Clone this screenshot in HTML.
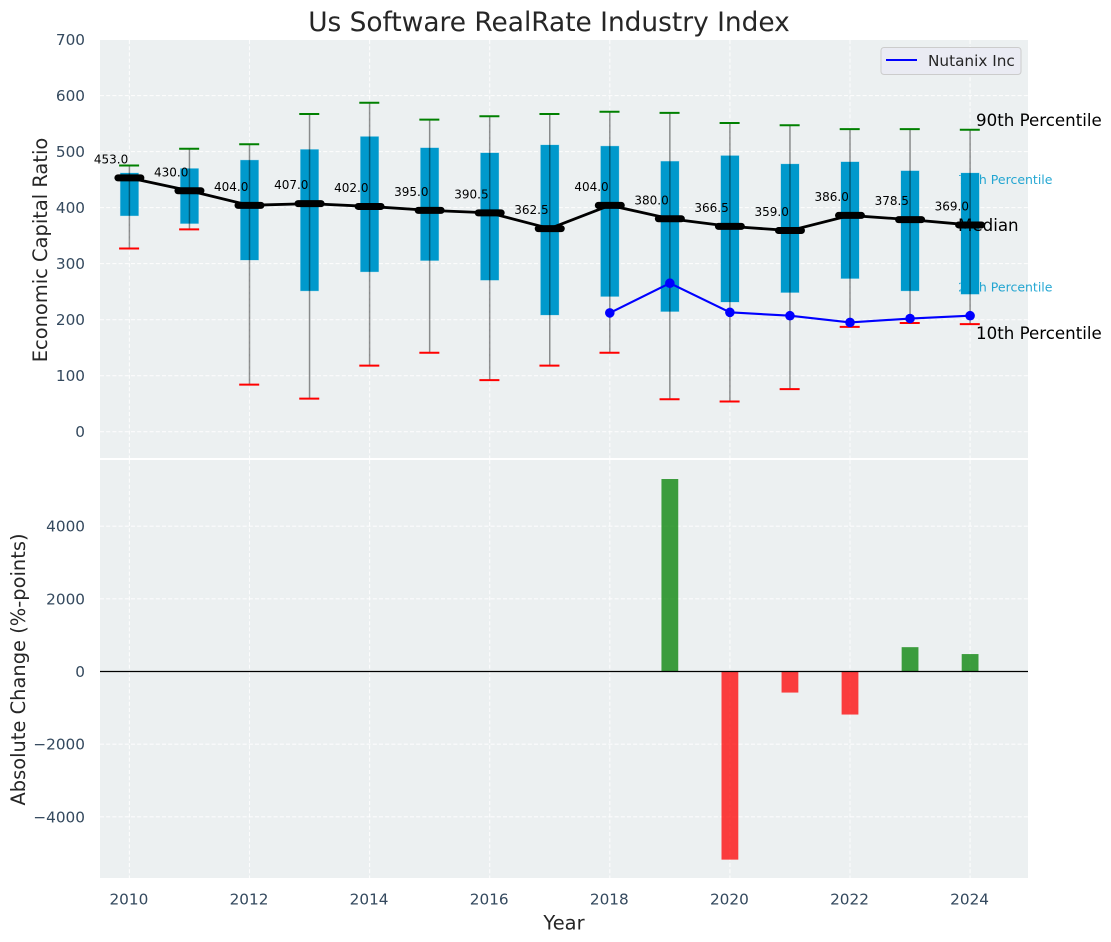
<!DOCTYPE html>
<html>
<head>
<meta charset="utf-8">
<title>Us Software RealRate Industry Index</title>
<style>
html,body{margin:0;padding:0;background:#fff;width:1111px;height:942px;overflow:hidden}
svg{display:block;font-family:"DejaVu Sans","Liberation Sans",sans-serif}
</style>
</head>
<body>
<svg id="chart" xmlns="http://www.w3.org/2000/svg" width="1111" height="942" viewBox="0 0 1111 942"></svg>
<script>
const years = [2010,2011,2012,2013,2014,2015,2016,2017,2018,2019,2020,2021,2022,2023,2024];
const p90 = [475,505,513,567,587,557,563,567,571,569,551,547,540,540,539];
const p75 = [462,470,485,504,527,507,498,512,510,483,493,478,482,466,462];
const medians = [453,430,404,407,402,395,390.5,362.5,404,380,366.5,359,386,378.5,369];
const medianLabels = ["453.0","430.0","404.0","407.0","402.0","395.0","390.5","362.5","404.0","380.0","366.5","359.0","386.0","378.5","369.0"];
const p25 = [385,371,306,251,285,305,270,208,241,214,231,248,273,251,245];
const p10 = [327,361,84,59,118,141,92,118,141,58,54,76,187,194,192];
const companyYears = [2018,2019,2020,2021,2022,2023,2024];
const companyValues = [212,265,213,207,195,202,207];
const changeYears = [2019,2020,2021,2022,2023,2024];
const changeValues = [5300,-5180,-580,-1185,670,480];
const xTicks = [2010,2012,2014,2016,2018,2020,2022,2024];
const yTicksTop = [0,100,200,300,400,500,600,700];
const yTicksBottom = [-4000,-2000,0,2000,4000];

const svg = document.getElementById('chart');
const NS = 'http://www.w3.org/2000/svg';
const L = 100, R = 1028, T1 = 40, B1 = 458, T2 = 460, B2 = 878;
const x = v => 129.4 + (v - 2010) * 60.05;
const y1 = v => 431.7 - v * 0.5603;
const y2 = v => 671.5 - v * 0.03632;
function mk(tag, props, parent) {
  const e = document.createElementNS(NS, tag);
  for (const k in props) e.setAttribute(k, props[k]);
  (parent || svg).appendChild(e);
  return e;
}
function txt(str, props, parent) {
  const e = mk('text', props, parent);
  e.textContent = str;
  return e;
}
let el;

el = mk('rect', {x:L, y:T1, width:R-L, height:B1-T1, fill:'#ecf0f1'});


el = mk('rect', {x:L, y:T2, width:R-L, height:B2-T2, fill:'#ecf0f1'});



const gridStyle = {stroke:'#ffffff', 'stroke-width':1.1, 'stroke-dasharray':'4 2.2', opacity:0.85};
xTicks.forEach(t => {
  el = mk('line', Object.assign({x1:x(t), x2:x(t), y1:T1, y2:B1}, gridStyle));
  
  
  el = mk('line', Object.assign({x1:x(t), x2:x(t), y1:T2, y2:B2}, gridStyle));
  
  
  el = txt(t, {x:x(t)-0.5, y:904.5, 'text-anchor':'middle', 'font-size':15.28, fill:'#34495e'});
  
  
});
yTicksTop.forEach(t => {
  el = mk('line', Object.assign({x1:L, x2:R, y1:y1(t), y2:y1(t)}, gridStyle));
  
  
  el = txt(t, {x:85, y:y1(t)+5.5, 'text-anchor':'end', 'font-size':15.28, fill:'#34495e'});
  
  
});
yTicksBottom.forEach(t => {
  el = mk('line', Object.assign({x1:L, x2:R, y1:y2(t), y2:y2(t)}, gridStyle));
  
  
  el = txt(String(t).replace('-', '\u2212'), {x:85, y:y2(t)+5.5, 'text-anchor':'end', 'font-size':15.28, fill:'#34495e'});
  
  
});

const lastIdx = years.length - 1;
const lastX = x(years[lastIdx]);
el = txt('75th Percentile', {x:lastX-12, y:y1(p75[lastIdx])+11, 'font-size':12.5, fill:'#0099cc', opacity:0.85});


el = txt('25th Percentile', {x:lastX-12, y:y1(p25[lastIdx])-3, 'font-size':12.5, fill:'#0099cc', opacity:0.85});



years.forEach((yr, i) => {
  const cx = x(yr);
  el = mk('rect', {x:cx-9.3, y:y1(p75[i]), width:18.6, height:y1(p25[i])-y1(p75[i]), fill:'#0099cc', stroke:'#bfe3ee', 'stroke-width':0.4});
  
  
  el = mk('line', {x1:cx, x2:cx, y1:y1(p90[i]), y2:y1(p10[i]), stroke:'#000', 'stroke-opacity':0.42, 'stroke-width':1.5});
  
  
  el = mk('line', {x1:cx-10.3, x2:cx+9.7, y1:y1(p90[i]), y2:y1(p90[i]), stroke:'#008000', 'stroke-width':2});
  
  
  el = mk('line', {x1:cx-10.3, x2:cx+9.7, y1:y1(p10[i]), y2:y1(p10[i]), stroke:'#ff0000', 'stroke-width':2});
  
  
});

el = txt('90th Percentile', {x:976, y:126, 'font-size':16.67, fill:'#000'});


el = txt('Median', {x:958, y:y1(medians[lastIdx])+6, 'font-size':16.67, fill:'#000'});


el = txt('10th Percentile', {x:976, y:339, 'font-size':16.67, fill:'#000'});



el = mk('polyline', {points:years.map((yr, i) => x(yr)+','+y1(medians[i])).join(' '), fill:'none', stroke:'#000', 'stroke-width':2.8});


years.forEach((yr, i) => {
  const cx = x(yr), cy = y1(medians[i]);
  el = mk('line', {x1:cx-11.5, x2:cx+11.5, y1:cy, y2:cy, stroke:'#000', 'stroke-width':7, 'stroke-linecap':'round'});
  
  
  el = txt(medianLabels[i], {x:cx-18.3, y:cy-14.5, 'text-anchor':'middle', 'font-size':12, fill:'#000'});
  
  
});

el = mk('polyline', {points:companyYears.map((yr, i) => x(yr)+','+y1(companyValues[i])).join(' '), fill:'none', stroke:'#0000ff', 'stroke-width':2.1});


companyYears.forEach((yr, i) => {
  el = mk('circle', {cx:x(yr), cy:y1(companyValues[i]), r:4.8, fill:'#0000ff'});
  
  
});

el = mk('rect', {x:881, y:47.5, width:140, height:27, rx:3, fill:'#eaeaf2', 'fill-opacity':0.95, stroke:'#cccccc', 'stroke-width':1});


el = mk('line', {x1:886, x2:917, y1:60, y2:60, stroke:'#0000ff', 'stroke-width':2});


el = txt('Nutanix Inc', {x:928, y:66, 'font-size':15.28, fill:'#262626'});



changeYears.forEach((yr, i) => {
  const v = changeValues[i];
  const top = y2(Math.max(v, 0)), bot = y2(Math.min(v, 0));
  el = mk('rect', {x:x(yr)-8.4, y:top, width:16.8, height:bot-top, fill:v >= 0 ? '#008000' : '#ff0000', 'fill-opacity':0.75});
  
  
});
el = mk('line', {x1:L, x2:R, y1:y2(0), y2:y2(0), stroke:'#000', 'stroke-width':1.2});



el = txt('Us Software RealRate Industry Index', {x:549, y:31, 'text-anchor':'middle', 'font-size':26.4, fill:'#262626'});


el = txt('Economic Capital Ratio', {x:0, y:0, 'text-anchor':'middle', 'font-size':19.44, fill:'#262626', transform:'translate(47,250) rotate(-90)'});


el = txt('Absolute Change (%-points)', {x:0, y:0, 'text-anchor':'middle', 'font-size':19.44, fill:'#262626', transform:'translate(25,669.5) rotate(-90)'});


el = txt('Year', {x:564, y:929.5, 'text-anchor':'middle', 'font-size':19.44, fill:'#262626'});


</script>
</body>
</html>
